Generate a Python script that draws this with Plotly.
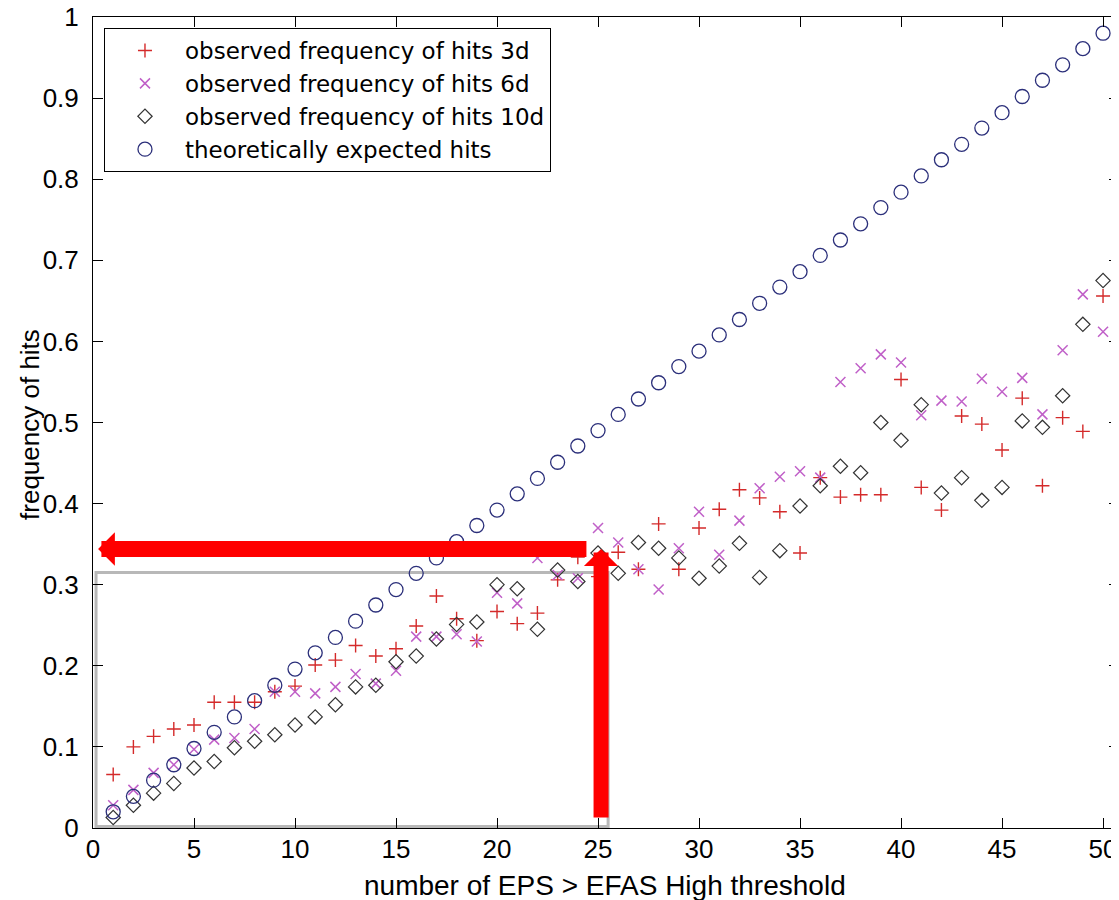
import plotly.graph_objects as go

# ---------------- data ----------------
members = [1, 2, 3, 4, 5, 6, 7, 8, 9, 10, 11, 12, 13, 14, 15, 16, 17, 18, 19, 20,
           21, 22, 23, 24, 25, 26, 27, 28, 29, 30, 31, 32, 33, 34, 35, 36, 37, 38, 39, 40,
           41, 42, 43, 44, 45, 46, 47, 48, 49, 50, 51]

hits_3d = [0.066, 0.100, 0.113, 0.122, 0.127, 0.155, 0.155, 0.155, 0.168, 0.175,
           0.201, 0.207, 0.225, 0.212, 0.221, 0.249, 0.286, 0.258, 0.231, 0.267,
           0.252, 0.265, 0.306, 0.334, 0.310, 0.340, 0.319, 0.375, 0.319, 0.370,
           0.393, 0.417, 0.407, 0.390, 0.339, 0.432, 0.408, 0.411, 0.411, 0.553,
           0.420, 0.392, 0.508, 0.498, 0.466, 0.530, 0.422, 0.506, 0.489, 0.656,
           0.779]

hits_6d = [0.028, 0.047, 0.068, 0.078, 0.097, 0.109, 0.111, 0.122, 0.168, 0.168,
           0.166, 0.174, 0.190, 0.178, 0.194, 0.236, 0.236, 0.239, 0.230, 0.290,
           0.277, 0.333, 0.312, 0.308, 0.370, 0.352, 0.319, 0.294, 0.345, 0.390,
           0.337, 0.379, 0.419, 0.433, 0.440, 0.432, 0.550, 0.567, 0.584, 0.574,
           0.509, 0.527, 0.526, 0.554, 0.538, 0.555, 0.510, 0.589, 0.658, 0.612]

hits_10d = [0.013, 0.028, 0.043, 0.055, 0.074, 0.082, 0.099, 0.107, 0.115, 0.127,
            0.137, 0.152, 0.174, 0.176, 0.205, 0.212, 0.233, 0.251, 0.254, 0.300,
            0.295, 0.245, 0.318, 0.304, 0.339, 0.314, 0.352, 0.345, 0.333, 0.308,
            0.323, 0.351, 0.309, 0.342, 0.397, 0.422, 0.446, 0.438, 0.500, 0.478,
            0.522, 0.413, 0.432, 0.404, 0.420, 0.502, 0.494, 0.533, 0.621, 0.675,
            0.797]

expected = [0.020, 0.039, 0.059, 0.078, 0.098, 0.118, 0.137, 0.157, 0.176, 0.196,
            0.216, 0.235, 0.255, 0.275, 0.294, 0.314, 0.333, 0.353, 0.373, 0.392,
            0.412, 0.431, 0.451, 0.471, 0.490, 0.510, 0.529, 0.549, 0.569, 0.588,
            0.608, 0.627, 0.647, 0.667, 0.686, 0.706, 0.725, 0.745, 0.765, 0.784,
            0.804, 0.824, 0.843, 0.863, 0.882, 0.902, 0.922, 0.941, 0.961, 0.980,
            1.000]

series_names = ["observed frequency of hits 3d",
                "observed frequency of hits 6d",
                "observed frequency of hits 10d",
                "theoretically expected hits"]

x_title = "number of EPS > EFAS High threshold"
y_title = "frequency of hits"

x_ticks = [0, 5, 10, 15, 20, 25, 30, 35, 40, 45, 50]
y_ticks = [0, 0.1, 0.2, 0.3, 0.4, 0.5, 0.6, 0.7, 0.8, 0.9, 1]
y_tick_labels = ["0", "0.1", "0.2", "0.3", "0.4", "0.5", "0.6", "0.7", "0.8", "0.9", "1"]

# highlighted reading: 25 members -> observed frequency
ref_members = 25.15
ref_freq = 0.344
box_x = [0.15, 25.5]
box_y = [0.002, 0.315]

FONT = "Arial, Liberation Sans, sans-serif"
LEGEND_FONT = "DejaVu Sans, sans-serif"

fig = go.Figure()

fig.add_trace(go.Scatter(
    x=members, y=hits_3d, mode="markers", name=series_names[0], cliponaxis=False,
    marker=dict(symbol="cross-thin-open", size=10, color="#d42a2a",
                line=dict(width=1.4, color="#d42a2a"))))
fig.add_trace(go.Scatter(
    x=members[:len(hits_6d)], y=hits_6d, mode="markers", name=series_names[1], cliponaxis=False,
    marker=dict(symbol="x-thin-open", size=10, color="#c060c8",
                line=dict(width=1.5, color="#c060c8"))))
fig.add_trace(go.Scatter(
    x=members, y=hits_10d, mode="markers", name=series_names[2], cliponaxis=False,
    marker=dict(symbol="diamond-open", size=11, color="#333333",
                line=dict(width=1.2, color="#333333"))))
fig.add_trace(go.Scatter(
    x=members, y=expected, mode="markers", name=series_names[3], cliponaxis=False,
    marker=dict(symbol="circle-open", size=14, color="#2b2f7a",
                line=dict(width=1.3, color="#2b2f7a"))))

# gray frame around the lower-left region
fig.add_shape(type="rect", xref="x", yref="y",
              x0=box_x[0], x1=box_x[1], y0=box_y[0], y1=box_y[1],
              line=dict(color="#b8b8b8", width=3), layer="below")

# red arrows
fig.add_annotation(x=0.25, y=ref_freq, ax=24.5, ay=ref_freq,
                   xref="x", yref="y", axref="x", ayref="y", text="",
                   showarrow=True, arrowhead=1, arrowsize=0.35, arrowwidth=16,
                   arrowcolor="#ff0000")
fig.add_annotation(x=ref_members, y=ref_freq, ax=ref_members, ay=0.011,
                   xref="x", yref="y", axref="x", ayref="y", text="",
                   showarrow=True, arrowhead=1, arrowsize=0.38, arrowwidth=15,
                   arrowcolor="#ff0000")

# axis titles
fig.add_annotation(text=x_title, xref="paper", yref="paper", x=0.499, y=-0.0703,
                   xanchor="center", yanchor="middle", showarrow=False,
                   font=dict(family=FONT, size=28, color="black"))
fig.add_annotation(text=y_title, xref="paper", yref="paper", x=-0.0614, y=0.497,
                   xanchor="center", yanchor="middle", showarrow=False, textangle=-90,
                   font=dict(family=FONT, size=26, color="black"))

axis_common = dict(showgrid=False, zeroline=False, showline=True, linecolor="black",
                   linewidth=1, mirror="ticks", ticks="inside", ticklen=10,
                   tickcolor="black", tickwidth=1, automargin=False,
                   ticklabeloverflow="allow",
                   tickfont=dict(family=FONT, size=26, color="black"))

fig.update_xaxes(range=[0, 50.79], tickvals=x_ticks, ticklabelstandoff=-2, **axis_common)
fig.update_yaxes(range=[0, 1], tickvals=y_ticks, ticktext=y_tick_labels,
                 ticklabelstandoff=8, **axis_common)

fig.update_layout(
    width=1111, height=892,
    margin=dict(l=85, r=0, t=9, b=72, pad=0),
    paper_bgcolor="white", plot_bgcolor="white",
    showlegend=True,
    legend=dict(x=0.0107, y=0.9864, xanchor="left", yanchor="top",
                bgcolor="white", bordercolor="black", borderwidth=1,
                font=dict(family=LEGEND_FONT, size=23, color="black"),
                itemwidth=70, tracegroupgap=0),
)

fig.write_html("out.html")
